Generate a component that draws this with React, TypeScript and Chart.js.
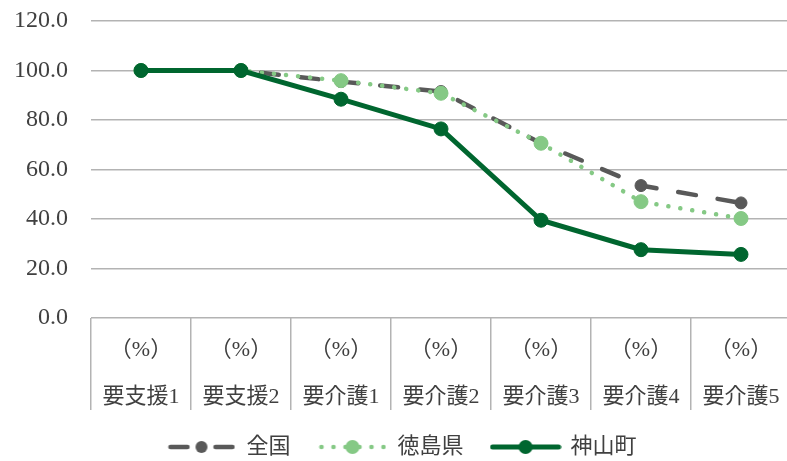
import React, { useEffect, useRef } from 'react';
import { Chart, registerables } from 'chart.js';

Chart.register(...registerables);

const categories = ['要支援1', '要支援2', '要介護1', '要介護2', '要介護3', '要介護4', '要介護5'];
const unitLabel = '（%）';
const seriesNames = ['全国', '徳島県', '神山町'];
const nationalValues = [100, 100, 95.5, 91.5, 70.6, 53.5, 46.5];
const tokushimaValues = [100, 100, 95.9, 90.8, 70.6, 47.0, 40.2];
const kamiyamaValues = [100, 100, 88.4, 76.4, 39.5, 27.6, 25.7];
const yMin = 0;
const yMax = 120;
const yStep = 20;

const FONT = "'Liberation Serif', 'Noto Sans CJK JP', serif";
const TEXT = '#404040';
const GRID = '#b3b3b3';
const C_NAT = '#595959';
const C_TOK = '#85c985';
const C_KAM = '#00662f';

function legendImage(kind: number, w: number): HTMLCanvasElement {
  const c = document.createElement('canvas');
  c.width = w;
  c.height = 18;
  const ctx = c.getContext('2d')!;
  const cy = 9;
  ctx.lineCap = 'round';
  if (kind === 0) {
    ctx.strokeStyle = C_NAT;
    ctx.lineWidth = 4.5;
    ctx.beginPath();
    ctx.moveTo(3, cy); ctx.lineTo(20, cy);
    ctx.moveTo(w - 20, cy); ctx.lineTo(w - 3, cy);
    ctx.stroke();
    ctx.fillStyle = C_NAT;
    ctx.beginPath(); ctx.arc(w / 2, cy, 6, 0, Math.PI * 2); ctx.fill();
  } else if (kind === 1) {
    ctx.fillStyle = C_TOK;
    const xs = [3, 15, 27, w - 27, w - 15, w - 3];
    xs.forEach((x) => { ctx.beginPath(); ctx.arc(x, cy, 2.3, 0, Math.PI * 2); ctx.fill(); });
    ctx.beginPath(); ctx.arc(w / 2, cy, 7, 0, Math.PI * 2); ctx.fill();
  } else {
    ctx.strokeStyle = C_KAM;
    ctx.lineWidth = 5;
    ctx.beginPath(); ctx.moveTo(3, cy); ctx.lineTo(w - 3, cy); ctx.stroke();
    ctx.fillStyle = C_KAM;
    ctx.beginPath(); ctx.arc(w / 2, cy, 7, 0, Math.PI * 2); ctx.fill();
  }
  return c;
}

const legendShift = {
  id: 'legendShift',
  afterLayout(chart: any) {
    if (chart.legend) chart.legend.left += 13;
  },
};

export default function App() {
  const ref = useRef<HTMLCanvasElement | null>(null);

  useEffect(() => {
    if (!ref.current) return;
    const imgs = [legendImage(0, 68), legendImage(1, 68), legendImage(2, 72)];
    const chart = new Chart(ref.current, {
      type: 'line',
      plugins: [legendShift],
      data: {
        labels: categories.map((c) => [unitLabel, c]),
        datasets: [
          {
            label: seriesNames[0],
            data: nationalValues,
            borderColor: C_NAT,
            backgroundColor: C_NAT,
            borderWidth: 4.5,
            borderDash: [18, 22],
            borderCapStyle: 'round',
            pointRadius: 6,
            pointHoverRadius: 6,
            pointBackgroundColor: C_NAT,
            pointBorderColor: C_NAT,
            pointBorderWidth: 1,
            order: 3,
          },
          {
            label: seriesNames[1],
            data: tokushimaValues,
            borderColor: C_TOK,
            backgroundColor: C_TOK,
            borderWidth: 4.5,
            borderDash: [0.1, 12],
            borderCapStyle: 'round',
            pointRadius: 7,
            pointHoverRadius: 7,
            pointBackgroundColor: C_TOK,
            pointBorderColor: C_TOK,
            pointBorderWidth: 1,
            order: 2,
          },
          {
            label: seriesNames[2],
            data: kamiyamaValues,
            borderColor: C_KAM,
            backgroundColor: C_KAM,
            borderWidth: 5,
            pointRadius: 7,
            pointHoverRadius: 7,
            pointBackgroundColor: C_KAM,
            pointBorderColor: C_KAM,
            pointBorderWidth: 1,
            order: 1,
          },
        ],
      },
      options: {
        responsive: false,
        animation: false,
        layout: { padding: { left: 0, right: 9, top: 21, bottom: 2 } },
        plugins: {
          tooltip: { enabled: false },
          legend: {
            position: 'bottom',
            labels: {
              usePointStyle: true,
              pointStyleWidth: 68,
              padding: 28,
              color: TEXT,
              font: { family: FONT, size: 22 },
              generateLabels: () =>
                seriesNames.map((name, i) => ({
                  text: name,
                  pointStyle: imgs[i] as any,
                  fillStyle: 'transparent',
                  strokeStyle: 'transparent',
                  lineWidth: 0,
                  fontColor: TEXT,
                  hidden: false,
                  datasetIndex: i,
                })),
            },
          },
        },
        scales: {
          x: {
            type: 'category',
            offset: true,
            border: { display: false },
            grid: {
              offset: true,
              drawOnChartArea: false,
              drawTicks: true,
              tickLength: 92,
              color: GRID,
              lineWidth: 1.5,
            },
            ticks: {
              padding: -83,
              autoSkip: false,
              maxRotation: 0,
              minRotation: 0,
              color: TEXT,
              font: { family: FONT, size: 22, lineHeight: '47px' as any },
            },
            afterFit: (s: any) => { s.height = 90; },
          },
          y: {
            min: yMin,
            max: yMax,
            border: { display: false },
            grid: { drawTicks: false, color: GRID, lineWidth: 1.5 },
            ticks: {
              stepSize: yStep,
              padding: 23,
              color: TEXT,
              font: { family: FONT, size: 24 },
              callback: (v: any) => Number(v).toFixed(1),
            },
            afterFit: (s: any) => {
              s.width = 91;
              s.paddingTop = 0;
              s.paddingBottom = 0;
            },
          },
        },
      },
    });
    return () => chart.destroy();
  }, []);

  return (
    <div style={{ position: 'fixed', left: 0, top: 0, width: 787, height: 461, overflow: 'hidden', background: '#fff' }}>
      <canvas ref={ref} width={800} height={470} style={{ width: 800, height: 470, display: 'block' }} />
    </div>
  );
}
